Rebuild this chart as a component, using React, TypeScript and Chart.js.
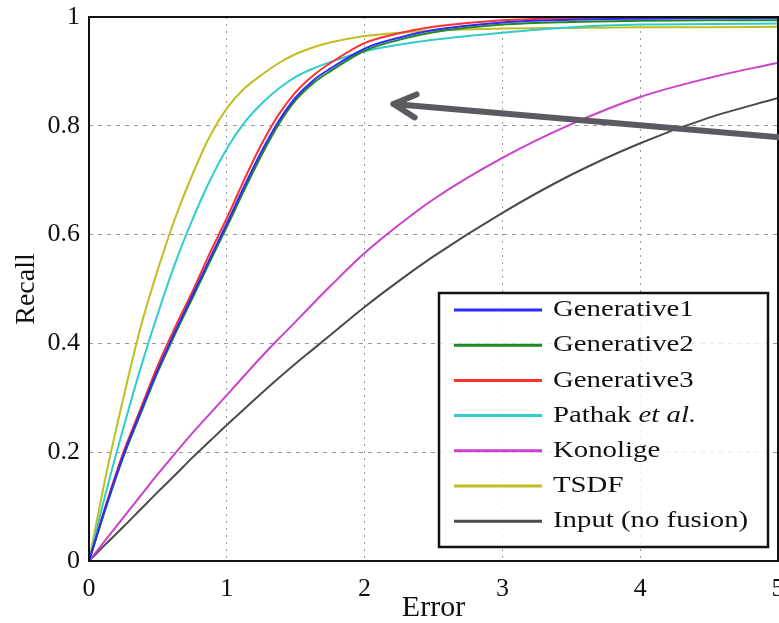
import React, { useEffect, useRef } from "react";
import { Chart, registerables } from "chart.js";

Chart.register(...registerables);

// ---- data ----
const errorX = [0, 0.125, 0.25, 0.375, 0.5, 0.625, 0.75, 0.875, 1, 1.125, 1.25, 1.375, 1.5, 1.625, 1.75, 2, 2.25, 2.5, 3, 3.5, 4, 4.5, 5];

const generative1 = [0, 0.102, 0.195, 0.275, 0.352, 0.422, 0.488, 0.555, 0.62, 0.688, 0.752, 0.808, 0.852, 0.883, 0.905, 0.942, 0.962, 0.976, 0.99, 0.995, 0.997, 0.998, 0.998];
const generative2 = [0, 0.1, 0.192, 0.271, 0.348, 0.417, 0.483, 0.549, 0.614, 0.681, 0.745, 0.802, 0.847, 0.878, 0.9, 0.938, 0.958, 0.972, 0.986, 0.991, 0.993, 0.994, 0.994];
const generative3 = [0, 0.105, 0.2, 0.28, 0.36, 0.43, 0.495, 0.565, 0.63, 0.7, 0.765, 0.82, 0.862, 0.892, 0.915, 0.952, 0.97, 0.982, 0.994, 0.998, 0.999, 0.999, 0.999];
const pathak = [0, 0.128, 0.245, 0.355, 0.455, 0.547, 0.627, 0.698, 0.758, 0.805, 0.84, 0.868, 0.89, 0.905, 0.917, 0.937, 0.949, 0.958, 0.971, 0.981, 0.986, 0.987, 0.988];
const konolige = [0, 0.04, 0.08, 0.12, 0.16, 0.198, 0.235, 0.27, 0.305, 0.34, 0.375, 0.408, 0.44, 0.473, 0.505, 0.566, 0.618, 0.665, 0.741, 0.803, 0.853, 0.888, 0.916];
const tsdf = [0, 0.16, 0.3, 0.43, 0.536, 0.63, 0.71, 0.78, 0.832, 0.868, 0.893, 0.915, 0.932, 0.944, 0.953, 0.965, 0.971, 0.975, 0.979, 0.98, 0.981, 0.981, 0.982];
const inputNoFusion = [0, 0.032, 0.063, 0.095, 0.127, 0.158, 0.19, 0.22, 0.25, 0.279, 0.308, 0.336, 0.363, 0.389, 0.415, 0.467, 0.515, 0.56, 0.64, 0.71, 0.768, 0.815, 0.851];

const seriesLabels = [
  "Generative1",
  "Generative2",
  "Generative3",
  "Pathak et al.",
  "Konolige",
  "TSDF",
  "Input (no fusion)",
];
const seriesValues = [generative1, generative2, generative3, pathak, konolige, tsdf, inputNoFusion];
const seriesColors = ["#2b2bff", "#1f8a1f", "#ff3030", "#30cccc", "#cc3fcc", "#bfbf22", "#4a4a4a"];

const xTitle = "Error";
const yTitle = "Recall";

// annotation arrow (data coordinates): tail (off to the right) -> head
const arrowTail = [5.3, 0.7725];
const arrowHead = [2.21, 0.84];

const SERIF = "'Liberation Serif', 'Times New Roman', Times, serif";

const overlayPlugin = {
  id: "overlay",
  afterDatasetsDraw(chart: any) {
    const { ctx, chartArea: a } = chart;
    ctx.save();
    ctx.strokeStyle = "#111";
    ctx.lineWidth = 2;
    ctx.strokeRect(a.left, a.top, a.right - a.left, a.bottom - a.top);
    ctx.restore();
  },
  afterDraw(chart: any) {
    const { ctx, chartArea: a, scales } = chart;
    // legend box
    const bw = 329;
    const bh = 254;
    const bx = a.right - 10 - bw;
    const by = a.bottom - 14 - bh;
    ctx.save();
    ctx.fillStyle = "rgba(255,255,255,0.8)";
    ctx.fillRect(bx, by, bw, bh);
    ctx.strokeStyle = "#111";
    ctx.lineWidth = 2.5;
    ctx.strokeRect(bx, by, bw, bh);
    const rowH = 35.2;
    chart.data.datasets.forEach((ds: any, i: number) => {
      const cy = by + 17 + i * rowH;
      ctx.strokeStyle = ds.borderColor;
      ctx.lineWidth = 3;
      ctx.lineCap = "butt";
      ctx.beginPath();
      ctx.moveTo(bx + 15, cy);
      ctx.lineTo(bx + 103, cy);
      ctx.stroke();
      ctx.save();
      ctx.translate(bx + 114, cy);
      ctx.scale(1.2, 1);
      ctx.fillStyle = "#111";
      ctx.textBaseline = "middle";
      ctx.textAlign = "left";
      const label: string = ds.label;
      const k = label.indexOf("et al.");
      if (k >= 0) {
        const head = label.slice(0, k);
        ctx.font = `24px ${SERIF}`;
        ctx.fillText(head, 0, 0);
        const w = ctx.measureText(head).width;
        ctx.font = `italic 24px ${SERIF}`;
        ctx.fillText(label.slice(k), w, 0);
      } else {
        ctx.font = `24px ${SERIF}`;
        ctx.fillText(label, 0, 0);
      }
      ctx.restore();
    });
    ctx.restore();

    // arrow
    const x1 = scales.x.getPixelForValue(arrowTail[0]);
    const y1 = scales.y.getPixelForValue(arrowTail[1]);
    const x2 = scales.x.getPixelForValue(arrowHead[0]);
    const y2 = scales.y.getPixelForValue(arrowHead[1]);
    ctx.save();
    ctx.strokeStyle = "#5a5a60";
    ctx.lineWidth = 6;
    ctx.lineCap = "round";
    ctx.lineJoin = "round";
    ctx.beginPath();
    ctx.moveTo(x1, y1);
    ctx.lineTo(x2, y2);
    ctx.stroke();
    const ang = Math.atan2(y1 - y2, x1 - x2);
    const L = 25;
    const sp = 0.48;
    ctx.beginPath();
    ctx.moveTo(x2 + L * Math.cos(ang - sp), y2 + L * Math.sin(ang - sp));
    ctx.lineTo(x2, y2);
    ctx.lineTo(x2 + L * Math.cos(ang + sp), y2 + L * Math.sin(ang + sp));
    ctx.stroke();
    ctx.restore();
  },
};

const fmtTick = (v: any) => String(Math.round(Number(v) * 10) / 10);

export default function App() {
  const ref = useRef<HTMLCanvasElement | null>(null);
  useEffect(() => {
    if (!ref.current) return;
    const chart = new Chart(ref.current, {
      type: "line",
      data: {
        datasets: seriesLabels.map((label, i) => ({
          label,
          data: errorX.map((x, j) => ({ x, y: seriesValues[i][j] })),
          borderColor: seriesColors[i],
          backgroundColor: seriesColors[i],
          borderWidth: 2,
          pointRadius: 0,
          cubicInterpolationMode: "monotone" as const,
          fill: false,
        })),
      },
      options: {
        animation: false,
        responsive: false,
        devicePixelRatio: 1,
        layout: { padding: { left: 0, right: 1, top: 17, bottom: 0 } },
        plugins: { legend: { display: false }, tooltip: { enabled: false } },
        scales: {
          x: {
            type: "linear",
            min: 0,
            max: 5,
            ticks: {
              stepSize: 1,
              color: "#111",
              padding: 13,
              font: { family: SERIF, size: 26 },
              maxRotation: 0,
              callback: fmtTick,
            },
            grid: {
              color: (c: any) => (c.tick && (c.tick.value === 0 || c.tick.value === 5) ? "rgba(0,0,0,0)" : "#9a9a9a"),
              lineWidth: 1,
              drawTicks: false,
            },
            border: { display: false, dash: [2, 5] },
            title: {
              display: true,
              text: xTitle,
              color: "#111",
              font: { family: SERIF, size: 30, lineHeight: 1 },
              padding: { top: 0, bottom: 0 },
            },
            afterFit: (s: any) => {
              s.height = 62;
              s.paddingLeft = 0;
              s.paddingRight = 0;
            },
          },
          y: {
            type: "linear",
            min: 0,
            max: 1,
            ticks: {
              stepSize: 0.2,
              color: "#111",
              padding: 9,
              font: { family: SERIF, size: 26 },
              callback: fmtTick,
            },
            grid: {
              color: (c: any) => (c.tick && (c.tick.value === 0 || c.tick.value === 1) ? "rgba(0,0,0,0)" : "#9a9a9a"),
              lineWidth: 1,
              drawTicks: false,
            },
            border: { display: false, dash: [4, 5] },
            title: {
              display: true,
              text: yTitle,
              color: "#111",
              font: { family: SERIF, size: 28, lineHeight: 1 },
              padding: { top: 13, bottom: 0 },
            },
            afterFit: (s: any) => {
              s.width = 89;
              s.paddingTop = 0;
              s.paddingBottom = 0;
            },
          },
        },
      },
      plugins: [overlayPlugin],
    } as any);
    return () => chart.destroy();
  }, []);

  return (
    <div style={{ position: "fixed", left: 0, top: 0, width: 779, height: 623, background: "#fff" }}>
      <canvas ref={ref} width={779} height={623} style={{ display: "block", width: 779, height: 623 }} />
    </div>
  );
}
